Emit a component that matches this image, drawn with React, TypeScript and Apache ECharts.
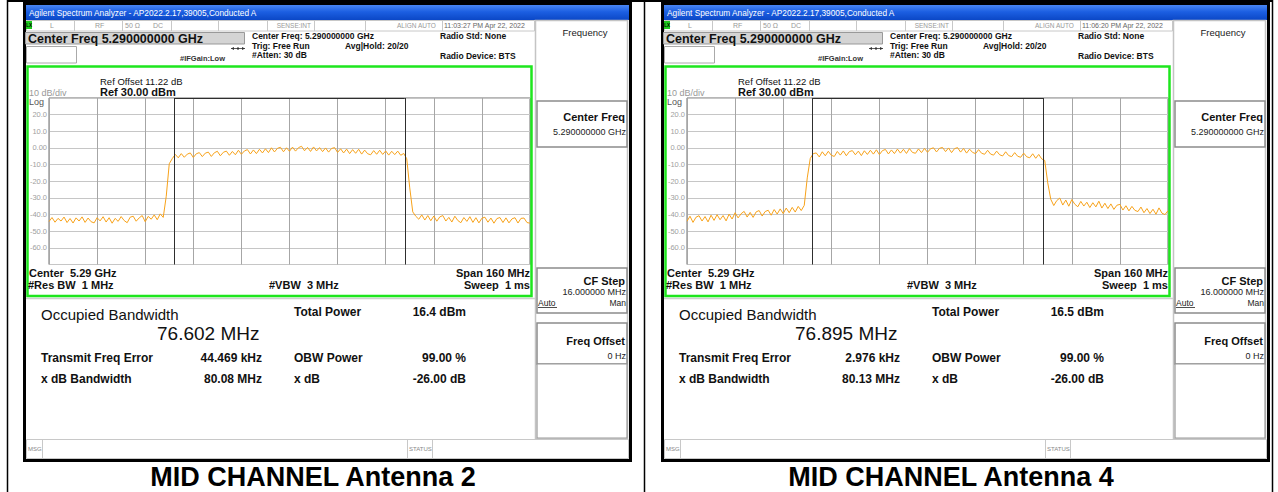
import React, { useEffect, useRef } from "react";
import * as echarts from "echarts";

const W = 1278;
const H = 492;
const FONT = "'Liberation Sans', Arial, Helvetica, sans-serif";

// Sweep: offsets from the 5.29 GHz centre, in MHz, one point per MHz over a 160 MHz span
const sweepStartMHz = -80;
const sweepStepMHz = 1;

// Trace values (dBm)
const ant2Trace = [
  -44.2, -41.8, -44.6, -42.3, -43.9, -41.5, -44.8, -42.4, -45.1, -42.0,
  -43.9, -41.4, -44.7, -42.1, -44.3, -45.0, -41.9, -43.8, -41.3, -44.5,
  -41.9, -45.2, -42.3, -44.1, -41.2, -43.6, -44.9, -41.6, -41.0, -44.0,
  -42.0, -40.6, -44.3, -41.1, -42.8, -40.2, -43.1, -39.6, -41.7,
  -29.0, -9.5,
  -6.4, -3.9, -5.9, -3.4, -5.6, -3.7, -3.0, -5.7, -3.5, -2.8,
  -5.2, -3.1, -2.5, -5.1, -2.9, -2.0, -4.7, -2.6, -1.9, -4.4,
  -2.1, -4.1, -1.4, -3.8, -1.8, -1.0, -3.6, -1.2, -3.4, -0.8,
  -3.0, -0.5, -2.8, 0.1, -2.4, -0.2, 0.4, -2.3, 0.1, -2.0,
  0.5, -1.9, 0.2, 1.0, -1.7, 0.3, -2.1, 0.6, -1.8, 0.2,
  -2.2, 0.0, -2.5, -0.3, 0.2, -2.7, -0.5, -3.0, -0.7, -3.4,
  -1.0, -3.2, -0.8, -3.7, -1.3, -3.5, -4.1, -1.6, -3.8, -1.4,
  -3.9, -1.8, -4.3, -2.0, -4.0, -1.9, -4.4, -3.3,
  -6.5, -24.0,
  -38.4, -41.0, -42.8, -40.2, -43.3, -40.6, -43.7, -40.9, -44.0, -41.4,
  -40.6, -43.9, -41.7, -44.5, -41.0, -43.6, -44.9, -41.8, -44.1, -41.3,
  -44.7, -41.9, -45.0, -42.2, -41.6, -44.6, -42.1, -45.2, -42.4, -41.8,
  -44.8, -42.0, -45.0, -42.6, -41.9, -45.1, -42.3, -42.1, -44.8, -45.2,
];

const ant4Trace = [
  -44.0, -41.0, -44.7, -41.6, -40.7, -43.9, -41.2, -44.4, -40.4, -43.5,
  -40.1, -43.1, -40.6, -43.8, -39.8, -42.7, -38.9, -42.0, -39.5, -38.1,
  -41.5, -38.7, -41.7, -38.4, -37.6, -40.9, -38.2, -37.4, -40.4, -37.0,
  -39.7, -36.6, -39.4, -36.1, -38.9, -35.7, -38.5, -35.1, -37.6,
  -34.5, -18.0,
  -6.3, -3.4, -3.0, -5.4, -2.3, -4.7, -2.0, -4.4, -5.1, -2.1,
  -4.3, -1.8, -4.7, -2.2, -1.6, -4.1, -1.9, -4.6, -1.7, -3.9,
  -1.4, -3.7, -1.1, -4.0, -1.6, -0.9, -3.6, -1.2, -3.4, -0.7,
  -3.1, -0.8, -3.3, -0.4, -2.7, -3.2, -0.6, -2.8, -0.3, -2.6,
  -0.5, 0.1, -2.4, -0.2, 0.3, -2.2, 0.0, -2.8, -0.4, 0.2,
  -2.5, -0.3, -3.1, -0.7, -2.7, -3.4, -1.0, -3.2, -3.8, -1.4,
  -3.7, -4.3, -1.9, -4.1, -4.8, -2.3, -4.6, -5.2, -2.8, -5.0,
  -5.6, -3.1, -5.3, -5.9, -3.5, -6.2, -3.9, -6.6,
  -7.5, -21.0,
  -30.8, -34.6, -31.6, -30.1, -34.3, -31.3, -35.0, -31.0, -33.8, -35.3,
  -32.1, -34.9, -32.6, -35.8, -32.9, -35.4, -32.0, -36.1, -33.2, -36.4,
  -33.6, -36.9, -34.4, -33.9, -37.3, -34.7, -37.8, -35.1, -37.5, -38.2,
  -35.5, -38.9, -36.4, -39.4, -36.8, -39.8, -36.0, -39.2, -40.0, -37.7,
];

// Y axis: Ref 30 dBm, 10 dB/div
const yTopDbm = 30;
const yBottomDbm = -70;
const yStepDb = 10;

// Per-panel readouts
const captions = ["MID CHANNEL Antenna 2", "MID CHANNEL Antenna 4"];
const timestamps = ["11:03:27 PM Apr 22, 2022", "11:06:20 PM Apr 22, 2022"];
const occupiedBwMHz = [76.602, 76.895];
const freqErrorKHz = [44.469, 2.976];
const totalPowers = ["16.4 dBm", "16.5 dBm"];
const xdbBandwidths = ["80.08 MHz", "80.13 MHz"];
const traces = [ant2Trace, ant4Trace];

function txt(x: number, y: number, text: string, size: number, o: any = {}) {
  return {
    type: "text",
    x,
    y,
    z: 20,
    silent: true,
    style: {
      text,
      fontSize: size,
      fontFamily: FONT,
      fontWeight: o.bold ? "bold" : "normal",
      fill: o.fill || "#111",
      textAlign: o.align || "left",
      textVerticalAlign: "middle",
    },
  };
}
function rect(x: number, y: number, w: number, h: number, style: any, z = 1) {
  return { type: "rect", z, silent: true, shape: { x, y, width: w, height: h }, style };
}
function line(x1: number, y1: number, x2: number, y2: number, stroke: string, lw = 1, z = 3) {
  return { type: "line", z, silent: true, shape: { x1, y1, x2, y2 }, style: { stroke, lineWidth: lw } };
}

function panel(p: number): any[] {
  const ox = p * 638;
  const els: any[] = [];
  // screenshot frame
  els.push(rect(ox + 23, 2, 609, 460, { fill: "#000" }, 0));
  els.push(rect(ox + 26, 5, 603, 454, { fill: "#fff" }, 0));
  // title bar
  els.push(
    rect(ox + 26, 5, 603, 15, {
      fill: new echarts.graphic.LinearGradient(0, 0, 0, 1, [
        { offset: 0, color: "#4a86f2" },
        { offset: 0.45, color: "#1c5fe2" },
        { offset: 1, color: "#0b47c6" },
      ]),
    }, 1)
  );
  els.push(txt(ox + 29, 12.5, "Agilent Spectrum Analyzer - AP2022.2.17,39005,Conducted A", 8.3, { fill: "#fff" }));
  // status row
  els.push(rect(ox + 26.5, 20.5, 508, 10.5, { fill: "#fff", stroke: "#c8c8c8", lineWidth: 1 }, 1));
  [74, 122, 171, 218, 267, 314, 365, 442].forEach((x) => els.push(line(ox + x + 0.5, 21, ox + x + 0.5, 31, "#c8c8c8")));
  els.push(rect(ox + 26, 21, 6, 8, { fill: "#1ecb1e" }, 2));
  els.push(txt(ox + 26.3, 25, "LX", 4.5, { bold: true, fill: "#000" }));
  els.push(txt(ox + 50, 25.5, "L", 7, { fill: "#999" }));
  els.push(txt(ox + 95, 25.5, "RF", 7, { fill: "#999" }));
  els.push(txt(ox + 125, 25.5, "50 Ω", 7, { fill: "#999" }));
  els.push(txt(ox + 153, 25.5, "DC", 7, { fill: "#999" }));
  els.push(txt(ox + 311, 25.5, "SENSE:INT", 6.5, { fill: "#999", align: "right" }));
  els.push(txt(ox + 397, 25.5, "ALIGN AUTO", 6.5, { fill: "#999" }));
  els.push(txt(ox + 444, 25.5, timestamps[p], 7, { fill: "#666" }));
  // center freq bar
  els.push(rect(ox + 25.5, 32.5, 219, 11.5, { fill: "#d4d4d4", stroke: "#999", lineWidth: 1 }, 2));
  els.push(txt(ox + 28, 38.5, "Center Freq 5.290000000 GHz", 12.5, { bold: true }));
  els.push(rect(ox + 26.5, 46.5, 50, 16.5, { fill: "#fff", stroke: "#aaa", lineWidth: 1 }, 2));
  els.push(line(ox + 231, 48.5, ox + 245, 48.5, "#333", 0.8));
  els.push({ type: "circle", z: 3, silent: true, shape: { cx: ox + 238, cy: 48.5, r: 1.2 }, style: { fill: "#333" } });
  els.push({ type: "polygon", z: 3, silent: true, shape: { points: [[ox + 231, 48.5], [ox + 234, 47], [ox + 234, 50]] }, style: { fill: "#333" } });
  els.push({ type: "polygon", z: 3, silent: true, shape: { points: [[ox + 245, 48.5], [ox + 242, 47], [ox + 242, 50]] }, style: { fill: "#333" } });
  els.push(txt(ox + 180, 58, "#IFGain:Low", 7.5, { bold: true, fill: "#333" }));
  els.push(txt(ox + 252, 36, "Center Freq: 5.290000000 GHz", 8.5, { bold: true }));
  els.push(txt(ox + 252, 45.5, "Trig: Free Run", 8.5, { bold: true }));
  els.push(txt(ox + 252, 55, "#Atten: 30 dB", 8.5, { bold: true }));
  els.push(txt(ox + 345, 45.5, "Avg|Hold: 20/20", 8.5, { bold: true }));
  els.push(txt(ox + 440, 36, "Radio Std: None", 8.5, { bold: true }));
  els.push(txt(ox + 440, 56, "Radio Device: BTS", 8.5, { bold: true }));
  // green trace frame
  els.push(rect(ox + 27.5, 66.5, 504, 229.5, { fill: "none", stroke: "#1ee61e", lineWidth: 2.5 }, 6));
  els.push(txt(ox + 100, 81, "Ref Offset 11.22 dB", 9.5));
  els.push(txt(ox + 100, 91.5, "Ref 30.00 dBm", 11, { bold: true }));
  els.push(txt(ox + 29, 93, "10 dB/div", 9, { fill: "#999" }));
  els.push(txt(ox + 29, 102, "Log", 9, { fill: "#555" }));
  els.push(txt(ox + 29, 273, "Center  5.29 GHz", 11, { bold: true }));
  els.push(txt(ox + 28, 285, "#Res BW  1 MHz", 11, { bold: true }));
  els.push(txt(ox + 269, 285, "#VBW  3 MHz", 11, { bold: true }));
  els.push(txt(ox + 530, 273, "Span 160 MHz", 11, { bold: true, align: "right" }));
  els.push(txt(ox + 530, 285, "Sweep  1 ms", 11, { bold: true, align: "right" }));
  els.push(line(ox + 26, 298.5, ox + 535, 298.5, "#cfcfcf", 1.5));
  // results
  els.push(txt(ox + 41, 314, "Occupied Bandwidth", 15));
  els.push(txt(ox + 157, 333, `${occupiedBwMHz[p].toFixed(3)} MHz`, 19));
  els.push(txt(ox + 294, 312, "Total Power", 12, { bold: true }));
  els.push(txt(ox + 466, 312, totalPowers[p], 12, { bold: true, align: "right" }));
  els.push(txt(ox + 41, 358, "Transmit Freq Error", 12, { bold: true }));
  els.push(txt(ox + 262, 358, `${freqErrorKHz[p].toFixed(3)} kHz`, 12, { bold: true, align: "right" }));
  els.push(txt(ox + 294, 358, "OBW Power", 12, { bold: true }));
  els.push(txt(ox + 466, 358, "99.00 %", 12, { bold: true, align: "right" }));
  els.push(txt(ox + 41, 379, "x dB Bandwidth", 12, { bold: true }));
  els.push(txt(ox + 262, 379, xdbBandwidths[p], 12, { bold: true, align: "right" }));
  els.push(txt(ox + 294, 379, "x dB", 12, { bold: true }));
  els.push(txt(ox + 466, 379, "-26.00 dB", 12, { bold: true, align: "right" }));
  // softkeys
  els.push(rect(ox + 535.5, 20.5, 92, 418.5, { fill: "#fff", stroke: "#c4c4c4", lineWidth: 1.5 }, 1));
  els.push(txt(ox + 585, 32.5, "Frequency", 9.5, { fill: "#222", align: "center" }));
  const key = { fill: "#fff", stroke: "#8c8c8c", lineWidth: 1.5 };
  els.push(rect(ox + 537, 101, 90, 46, key, 2));
  els.push(txt(ox + 625, 117, "Center Freq", 11, { bold: true, align: "right" }));
  els.push(txt(ox + 626, 132, "5.290000000 GHz", 9, { align: "right", fill: "#222" }));
  els.push(rect(ox + 537, 268, 90, 45, key, 2));
  els.push(txt(ox + 625, 281, "CF Step", 11, { bold: true, align: "right" }));
  els.push(txt(ox + 626, 292, "16.000000 MHz", 9, { align: "right", fill: "#222" }));
  els.push(txt(ox + 538, 303, "Auto", 8.5, { fill: "#222" }));
  els.push(line(ox + 538, 307.5, ox + 557, 307.5, "#222", 0.8, 21));
  els.push(txt(ox + 626, 303, "Man", 8.5, { align: "right", fill: "#222" }));
  els.push(rect(ox + 537, 323, 90, 41, key, 2));
  els.push(txt(ox + 625, 341, "Freq Offset", 11, { bold: true, align: "right" }));
  els.push(txt(ox + 626, 356, "0 Hz", 9, { align: "right", fill: "#222" }));
  els.push(rect(ox + 537, 364, 90, 74, { fill: "#fff", stroke: "#9a9a9a", lineWidth: 1.2 }, 2));
  // message row
  els.push(rect(ox + 26.5, 439.5, 602, 19, { fill: "#fff", stroke: "#c8c8c8", lineWidth: 1 }, 2));
  [42, 407, 432].forEach((x) => els.push(line(ox + x + 0.5, 440, ox + x + 0.5, 458, "#c8c8c8")));
  els.push(txt(ox + 28, 448.5, "MSG", 6, { fill: "#888" }));
  els.push(txt(ox + 409, 448.5, "STATUS", 6, { fill: "#888" }));
  // caption
  els.push(txt(ox + 313, 477, captions[p], 27, { bold: true, align: "center", fill: "#000" }));
  return els;
}

function buildOption() {
  const graphics: any[] = [
    rect(0, 0, W, H, { fill: "#fff" }, -1),
    ...panel(0),
    ...panel(1),
    line(7, 1, 1273, 1, "#000", 2, 30),
    line(7.5, 0, 7.5, H, "#000", 1.5, 30),
    line(644.5, 0, 644.5, H, "#000", 1.5, 30),
    line(1272.5, 0, 1272.5, H, "#000", 1.5, 30),
  ];

  const grids = [0, 1].map((p) => ({
    left: 49 + p * 638,
    top: 98,
    width: 481,
    height: 166.5,
    show: true,
    borderColor: "#6e6e6e",
    borderWidth: 1,
    z: 3,
    outerBoundsMode: "none",
  }));

  const xAxes = [0, 1].map((p) => ({
    gridIndex: p,
    type: "value",
    min: sweepStartMHz,
    max: sweepStartMHz + sweepStepMHz * (ant2Trace.length - 1),
    interval: 16,
    z: 3,
    axisLabel: { show: false },
    axisTick: { show: false },
    axisLine: { show: false },
    splitLine: { show: true, lineStyle: { color: "#a6a6a6", width: 1 } },
  }));

  const yAxes = [0, 1].map((p) => ({
    gridIndex: p,
    type: "value",
    min: yBottomDbm,
    max: yTopDbm,
    interval: yStepDb,
    z: 3,
    axisLine: { show: false },
    axisTick: { show: false },
    splitLine: { show: true, lineStyle: { color: "#c6c6c6", width: 1 } },
    axisLabel: {
      show: true,
      margin: 2,
      fontSize: 7.5,
      fontFamily: FONT,
      color: "#a0a0a0",
      formatter: (v: number) =>
        v === yTopDbm || v === yBottomDbm ? "" : v === 0 ? "0.00" : v.toFixed(1),
    },
  }));

  const series = [0, 1].map((p) => {
    const half = occupiedBwMHz[p] / 2;
    const off = freqErrorKHz[p] / 1000;
    const lo = off - half;
    const hi = off + half;
    return {
      type: "line",
      xAxisIndex: p,
      yAxisIndex: p,
      z: 4,
      showSymbol: false,
      symbol: "none",
      silent: true,
      lineStyle: { color: "#f7a21a", width: 1 },
      data: traces[p].map((v, i) => [sweepStartMHz + i * sweepStepMHz, v]),
      markLine: {
        silent: true,
        symbol: ["none", "none"],
        label: { show: false },
        lineStyle: { color: "#2e2e2e", width: 1, type: "solid" },
        data: [
          { xAxis: lo },
          { xAxis: hi },
          [{ coord: [lo, yTopDbm] }, { coord: [hi, yTopDbm] }],
        ],
      },
    };
  });

  return {
    animation: false,
    backgroundColor: "#fff",
    grid: grids,
    xAxis: xAxes,
    yAxis: yAxes,
    series,
    graphic: { elements: graphics },
  };
}

export default function App() {
  const ref = useRef<HTMLDivElement>(null);
  useEffect(() => {
    if (!ref.current) return;
    const chart = echarts.init(ref.current, null, { renderer: "svg", width: W, height: H });
    chart.setOption(buildOption() as any);
    return () => chart.dispose();
  }, []);
  return (
    <div
      ref={ref}
      style={{ position: "absolute", left: 0, top: 0, width: W, height: H, background: "#fff" }}
    />
  );
}
